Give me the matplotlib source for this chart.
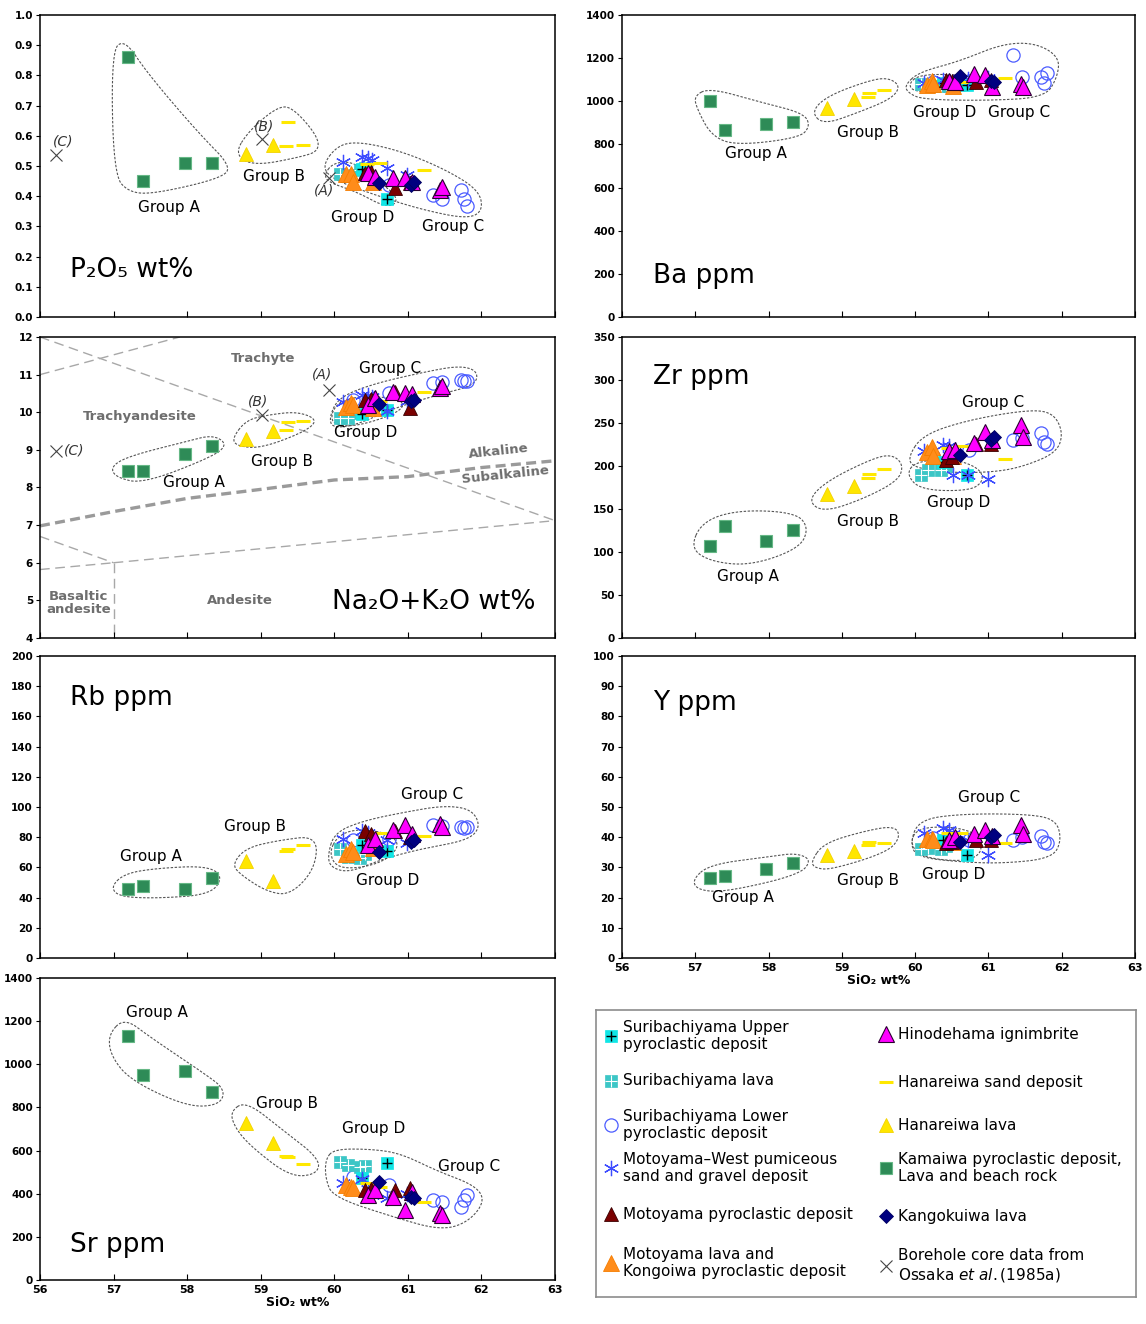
import numpy as np
import pandas as pd
import matplotlib
matplotlib.use("Agg")
import matplotlib.pyplot as plt
from matplotlib.ticker import FormatStrFormatter, MultipleLocator

plt.rcParams["font.family"] = ["DejaVu Sans"]

NA = np.nan
COLUMNS = ["SiO2", "P2O5", "Ba", "TAS", "Zr", "Rb", "Y", "Sr"]

# one row per sample: SiO2, P2O5, Ba, Na2O+K2O, Zr, Rb, Y, Sr
SURIBACHI_UPPER = [
    (60.38, 0.490, 1085, 9.95, 205, 75.0, 39.0, 471),
    (60.71, 0.390, 1075, 10.05, 189, 71.0, 34.0, 541),
]
SURIBACHI_LAVA = [
    (60.08, 0.475, 1080, 9.85, 190, 72.5, 36.0, 548),
    (60.18, 0.470, 1075, 9.85, 195, 67.0, 36.5, 535),
    (60.35, 0.488, 1070, 9.97, 195, 66.0, 36.0, 525),
    (60.42, 0.495, 1082, 10.05, 200, 69.0, 37.0, 530),
]
SURIBACHI_LOWER = [
    (60.25, 0.464, 1088, 10.32, 212, 78.0, 39.6, 479),
    (60.74, 0.436, 1092, 10.50, 219, 79.0, 39.0, 440),
    (61.34, 0.403, 1215, 10.77, 230, 88.0, 39.2, 371),
    (61.46, 0.392, 1114, 10.80, 232, 87.5, 40.0, 363),
    (61.72, 0.420, 1111, 10.85, 238, 87.0, 40.5, 340),
    (61.76, 0.392, 1085, 10.84, 228, 86.0, 38.5, 372),
    (61.80, 0.367, 1132, 10.82, 226, 86.5, 38.0, 394),
]
MOTOYAMA_WEST = [
    (60.12, 0.513, 1085, 10.28, 217, 79.0, 41.3, 450),
    (60.38, 0.530, 1100, 10.46, 224, 84.0, 43.0, 470),
    (60.46, 0.527, 1095, 10.45, 223, 83.0, 42.5, 420),
    (60.51, 0.520, 1090, 10.40, 190, 80.0, 41.0, 395),
    (60.72, 0.493, 1105, 10.02, 189, 78.0, 39.0, 380),
    (60.99, 0.470, 1110, 10.30, 185, 76.0, 34.0, 400),
]
MOTOYAMA_PYRO = [
    (60.42, 0.477, 1100, 10.32, 207, 84.0, 38.0, 417),
    (60.50, 0.480, 1095, 10.35, 210, 82.0, 38.5, 420),
    (60.83, 0.427, 1088, 10.54, 226, 84.0, 39.0, 417),
    (61.03, 0.444, 1100, 10.10, 226, 80.0, 39.0, 425),
]
MOTOYAMA_LAVA = [
    (60.16, 0.475, 1075, 10.15, 216, 69.0, 39.5, 440),
    (60.23, 0.475, 1095, 10.25, 222, 72.0, 39.5, 430),
    (60.25, 0.448, 1080, 10.20, 212, 70.0, 39.0, 425),
    (60.52, 0.448, 1070, 10.10, 212, 73.0, 38.5, 420),
]
HINODEHAMA = [
    (60.46, 0.477, 1095, 10.20, 217, 75.0, 39.0, 394),
    (60.55, 0.464, 1090, 10.37, 219, 79.0, 40.0, 417),
    (60.80, 0.460, 1128, 10.54, 227, 85.0, 41.0, 386),
    (60.96, 0.460, 1122, 10.50, 240, 88.0, 42.5, 325),
    (61.05, 0.448, 1068, 10.48, 230, 82.0, 40.5, 410),
    (61.44, 0.420, 1080, 10.64, 248, 89.0, 44.0, 309),
    (61.47, 0.430, 1068, 10.70, 234, 87.0, 41.0, 300),
]
HANAREIWA_SAND = [
    (59.35, 0.567, 1022, 9.52, 186, 71.0, 37.5, 575),
    (59.37, 0.646, 1037, 9.73, 191, 72.5, 38.5, 570),
    (59.57, 0.569, 1052, 9.77, 197, 75.0, 38.0, 540),
    (60.45, 0.506, 1068, 10.22, 221, 80.0, 41.3, 448),
    (60.62, 0.510, 1091, 10.30, 223, 83.0, 41.5, 433),
    (61.22, 0.486, 1107, 10.55, 208, 81.0, 38.0, 363),
]
HANAREIWA_LAVA = [
    (58.80, 0.540, 967, 9.30, 167, 64.0, 34.0, 730),
    (59.17, 0.570, 1009, 9.50, 177, 51.0, 35.5, 635),
]
KAMAIWA = [
    (57.20, 0.860, 1000, 8.45, 107, 46.0, 26.5, 1130),
    (57.40, 0.450, 865, 8.45, 130, 47.5, 27.0, 950),
    (57.97, 0.510, 897, 8.90, 113, 46.0, 29.5, 970),
    (58.34, 0.510, 902, 9.10, 126, 53.0, 31.5, 872),
]
KANGOKUIWA = [
    (60.61, 0.444, 1118, 10.22, 213, 70.0, 38.5, 456),
    (61.04, 0.437, 1095, 10.30, 230, 77.0, 40.0, 385),
    (61.08, 0.447, 1090, 10.32, 234, 78.0, 40.7, 379),
]
BOREHOLE = [
    (59.93, 0.459, NA, 10.60, NA, NA, NA, NA),
    (59.02, 0.591, NA, 9.92, NA, NA, NA, NA),
    (56.22, 0.536, NA, 8.98, NA, NA, NA, NA),
]
BOREHOLE_TAGS = ["(A)", "(B)", "(C)"]

# TAS boundary lines
TAS_ALK_SIO2 = [56, 57, 58, 59, 60, 61, 62, 63]
TAS_ALK_TOTAL = [6.98, 7.36, 7.71, 7.95, 8.20, 8.29, 8.53, 8.71]
TAS_LINES = [
    ((56.0, 57.9), (11.0, 12.0)),
    ((56.0, 63.0), (12.0, 7.12)),
    ((56.0, 57.0), (6.70, 6.00)),
    ((56.0, 57.0), (5.82, 6.00)),
    ((57.0, 63.0), (6.00, 7.12)),
    ((57.0, 57.0), (6.00, 4.00)),
]

# hand-drawn group envelopes (data coords), per panel
ENV_P2O5 = [
    [(57.15, 0.92), (57.45, 0.81), (58.15, 0.61), (58.6, 0.50), (58.47, 0.46), (57.6, 0.41), (57.22, 0.41), (57.0, 0.47), (56.97, 0.88)],
    [(58.64, 0.54), (58.85, 0.62), (59.25, 0.70), (59.45, 0.69), (59.77, 0.60), (59.79, 0.55), (59.55, 0.53), (58.9, 0.50)],
    [(59.83, 0.50), (60.05, 0.57), (60.35, 0.58), (60.9, 0.55), (61.5, 0.49), (61.97, 0.42), (62.02, 0.35), (61.8, 0.325), (61.2, 0.355), (60.6, 0.40), (59.98, 0.455)],
    [(59.86, 0.47), (59.98, 0.51), (60.25, 0.515), (60.5, 0.465), (60.82, 0.41), (60.85, 0.375), (60.68, 0.365), (60.3, 0.415), (59.93, 0.445)],
]
ENV_BA = [
    [(56.98, 1025), (57.2, 1062), (57.9, 995), (58.48, 945), (58.57, 885), (58.42, 830), (57.55, 795), (57.22, 840), (57.03, 960)],
    [(58.58, 950), (58.75, 892), (59.2, 945), (59.67, 1010), (59.8, 1068), (59.65, 1108), (59.4, 1100), (58.8, 1025)],
    [(59.86, 1075), (60.05, 1135), (60.6, 1185), (61.2, 1268), (61.65, 1270), (61.97, 1205), (61.94, 1110), (61.77, 1018), (61.0, 1003), (60.1, 1008), (59.9, 1040)],
    [(59.91, 1080), (60.05, 1122), (60.5, 1126), (60.87, 1108), (60.9, 1055), (60.4, 1040), (59.98, 1045)],
]
ENV_TAS = [
    [(56.96, 8.55), (57.2, 8.83), (58.0, 9.23), (58.35, 9.4), (58.55, 9.15), (58.35, 8.82), (57.4, 8.1), (57.03, 8.27)],
    [(58.61, 9.3), (58.8, 9.79), (59.1, 9.93), (59.5, 10.02), (59.78, 9.8), (59.6, 9.48), (59.0, 9.04), (58.68, 9.1)],
    [(59.93, 9.85), (60.05, 10.38), (60.5, 10.74), (61.2, 11.06), (61.7, 11.24), (61.95, 11.1), (61.92, 10.72), (61.4, 10.46), (60.8, 10.1), (60.3, 9.66), (59.98, 9.58)],
    [(59.96, 10.0), (60.1, 10.33), (60.5, 10.45), (60.97, 10.3), (60.87, 9.98), (60.3, 9.62), (59.98, 9.67)],
]
ENV_ZR = [
    [(56.93, 105), (57.1, 136), (57.6, 149), (58.37, 146), (58.55, 128), (58.42, 104), (57.75, 84), (57.2, 89)],
    [(58.53, 160), (58.75, 146), (59.3, 162), (59.77, 183), (59.84, 201), (59.7, 213), (59.45, 210), (58.8, 183)],
    [(59.9, 210), (60.1, 236), (60.7, 253), (61.5, 265), (61.87, 263), (62.02, 240), (61.94, 216), (61.5, 200), (61.1, 193), (60.5, 192), (59.98, 198)],
    [(59.88, 190), (60.0, 205), (60.5, 209), (60.87, 198), (60.94, 183), (60.75, 171), (60.08, 172)],
]
ENV_RB = [
    [(56.96, 47), (57.15, 56), (57.6, 59.5), (58.27, 61), (58.49, 54), (58.32, 42), (57.6, 39.5), (57.08, 40.5)],
    [(58.61, 62), (58.8, 73), (59.25, 78), (59.77, 81), (59.74, 59), (59.4, 41.5), (59.08, 44), (58.73, 55)],
    [(59.91, 68), (60.0, 83), (60.4, 91), (61.0, 97), (61.5, 101), (61.87, 98.5), (61.99, 87), (61.82, 78), (61.2, 72.5), (60.65, 65.5), (60.2, 56.5), (59.95, 60)],
    [(59.93, 70), (60.05, 81), (60.3, 85.5), (60.72, 83), (60.9, 75), (60.7, 64.5), (60.35, 59.5), (60.03, 60)],
]
ENV_Y = [
    [(56.96, 26), (57.2, 31), (58.0, 33.5), (58.37, 34.8), (58.59, 32.5), (58.42, 27.5), (57.4, 21.8), (57.03, 22.5)],
    [(58.58, 32), (58.75, 38), (59.3, 42), (59.72, 43.8), (59.8, 40), (59.62, 35), (58.85, 29.2), (58.63, 29.8)],
    [(59.93, 38), (60.05, 45.7), (60.6, 47.7), (61.5, 47.7), (61.92, 46), (62.0, 39), (61.87, 33), (61.2, 31.3), (60.6, 31.8), (60.03, 33.4)],
    [(59.93, 38), (60.03, 43), (60.5, 43.6), (60.87, 41), (60.92, 34.6), (60.65, 31.8), (60.08, 33.4)],
]
ENV_SR = [
    [(56.93, 1140), (57.15, 1215), (57.5, 1125), (58.2, 965), (58.52, 885), (58.44, 810), (58.0, 803), (57.23, 925), (56.96, 1040)],
    [(58.58, 780), (58.8, 830), (59.3, 695), (59.8, 563), (59.77, 490), (59.4, 478), (58.88, 615), (58.66, 700)],
    [(59.88, 560), (60.0, 607), (60.5, 607), (60.9, 587), (61.4, 505), (61.92, 438), (62.05, 365), (61.82, 268), (61.45, 230), (60.8, 292), (59.98, 385), (59.88, 470)],
]

# group label positions (data coords): A, B, D, C
LAB_P2O5 = [(57.75, 0.361), (59.18, 0.464), (60.39, 0.331), (61.61, 0.301)]
LAB_BA = [(57.83, 760), (59.36, 853), (60.40, 946), (61.42, 946)]
LAB_TAS = [(58.09, 8.14), (59.29, 8.70), (60.43, 9.47), (60.76, 11.15)]
LAB_ZR = [(57.72, 72), (59.36, 136), (60.60, 157), (61.07, 274)]
LAB_RB = [(57.51, 67.5), (58.92, 87.4), (60.73, 51), (61.33, 108.6)]
LAB_Y = [(57.65, 19.9), (59.36, 25.8), (60.52, 27.8), (61.01, 53)]
LAB_SR = [(57.59, 1242), (59.36, 820), (60.54, 700), (61.83, 528)]
GROUP_NAMES = ["Group A", "Group B", "Group D", "Group C"]

SERIES = [
    ("Suribachiyama Upper\npyroclastic deposit", SURIBACHI_UPPER, "upper"),
    ("Suribachiyama lava", SURIBACHI_LAVA, "lava"),
    ("Suribachiyama Lower\npyroclastic deposit", SURIBACHI_LOWER, "lower"),
    ("Motoyama\u2013West pumiceous\nsand and gravel deposit", MOTOYAMA_WEST, "west"),
    ("Motoyama pyroclastic deposit", MOTOYAMA_PYRO, "mpyro"),
    ("Motoyama lava and\nKongoiwa pyroclastic deposit", MOTOYAMA_LAVA, "mlava"),
    ("Hinodehama ignimbrite", HINODEHAMA, "hino"),
    ("Hanareiwa sand deposit", HANAREIWA_SAND, "sand"),
    ("Hanareiwa lava", HANAREIWA_LAVA, "hlava"),
    ("Kamaiwa pyroclastic deposit,\nLava and beach rock", KAMAIWA, "kama"),
    ("Kangokuiwa lava", KANGOKUIWA, "kango"),
    ("Borehole core data from\nOssaka $\\it{et\\ al.}$(1985a)", BOREHOLE, "bore"),
]
frames = {key: pd.DataFrame(rows, columns=COLUMNS) for _, rows, key in SERIES}

STYLE = {
    "upper": [dict(marker="s", ms=8.5, mfc="#10e6e6", mec="#10e6e6", mew=0.5),
              dict(marker="+", ms=7.5, mec="black", mew=1.0)],
    "lava": [dict(marker="s", ms=8.5, mfc="#3cc6c6", mec="#3cc6c6", mew=0.5),
             dict(marker="+", ms=8.5, mec="white", mew=0.8)],
    "lower": [dict(marker="o", ms=9.5, mfc="none", mec="#4b5cff", mew=0.9)],
    "west": [dict(marker=(6, 2, 0), ms=11, mec="#3d4cff", mew=0.9)],
    "mpyro": [dict(marker="^", ms=10.5, mfc="#7a0000", mec="#3a0000", mew=0.6)],
    "mlava": [dict(marker="^", ms=12, mfc="#ff8c1a", mec="#f57d00", mew=0.6)],
    "hino": [dict(marker="^", ms=11, mfc="#ff00ff", mec="#2a0030", mew=0.8)],
    "sand": [dict(marker="_", ms=10, mec="#ffe800", mew=2.2)],
    "hlava": [dict(marker="^", ms=9.5, mfc="#ffe600", mec="#f2d200", mew=0.6)],
    "kama": [dict(marker="s", ms=8.5, mfc="#2e8b57", mec="#66b886", mew=0.8)],
    "kango": [dict(marker="D", ms=7.5, mfc="#000080", mec="#000060", mew=0.6)],
    "bore": [dict(marker="x", ms=8, mec="#444444", mew=0.8)],
}
DRAW_ORDER = ["lower", "lava", "upper", "west", "sand", "mlava", "mpyro", "hino",
              "kango", "hlava", "kama", "bore"]

W, H = 1146, 1324


def rect(x0, x1, y0, y1):
    return [x0 / W, 1 - y1 / H, (x1 - x0) / W, (y1 - y0) / H]


def chaikin(points, n=4):
    p = np.asarray(points, float)
    for _ in range(n):
        q = np.roll(p, -1, axis=0)
        a = 0.75 * p + 0.25 * q
        b = 0.25 * p + 0.75 * q
        p = np.empty((2 * len(a), 2))
        p[0::2] = a
        p[1::2] = b
    return np.vstack([p, p[:1]])


def draw_points(ax, col):
    for key in DRAW_ORDER:
        df = frames[key].dropna(subset=[col])
        if df.empty:
            continue
        for st in STYLE[key]:
            ax.plot(df["SiO2"], df[col], ls="none", zorder=4, **st)
    if col in ("P2O5", "TAS"):
        df = frames["bore"]
        if col == "P2O5":
            offs = [(-4, -9), (1, 9), (5, 10)]
        else:
            offs = [(-5, 11), (-3, 10), (13, 0)]
        for tag, x, y, off in zip(BOREHOLE_TAGS, df["SiO2"], df[col], offs):
            ax.annotate(tag, (x, y), xytext=off, textcoords="offset points",
                        ha="center", va="center", fontsize=10, style="italic",
                        color="#333333")


def setup(ax, col, ylim, ystep, fmt, envelopes, labels, big, big_xy, big_ha,
          xlabels=False):
    ax.set_xlim(56, 63)
    ax.set_ylim(*ylim)
    ax.xaxis.set_major_locator(MultipleLocator(1))
    ax.yaxis.set_major_locator(MultipleLocator(ystep))
    ax.yaxis.set_major_formatter(FormatStrFormatter(fmt))
    ax.tick_params(axis="x", direction="in", length=4, labelsize=8)
    ax.tick_params(axis="y", direction="out", length=3, labelsize=7.5, pad=2)
    if not xlabels:
        ax.set_xticklabels([])
    else:
        ax.set_xlabel("SiO\u2082 wt%", fontsize=9, fontweight="bold", labelpad=1)
    for lab in ax.get_yticklabels() + ax.get_xticklabels():
        lab.set_fontweight("bold")
    for sp in ax.spines.values():
        sp.set_linewidth(1.1)
    for env in envelopes:
        c = chaikin(env)
        ax.plot(c[:, 0], c[:, 1], color="#555555", lw=0.8, ls=(0, (2.2, 1.4)), zorder=2)
    for name, (x, y) in zip(GROUP_NAMES, labels):
        ax.text(x, y, name, ha="center", va="center", fontsize=11, zorder=5)
    ax.text(big_xy[0], big_xy[1], big, transform=ax.transAxes, ha=big_ha,
            va="center", fontsize=19)
    draw_points(ax, col)


fig = plt.figure(figsize=(W / 100, H / 100), dpi=100)

L = (40, 555)
R = (622, 1135)
ax_p = fig.add_axes(rect(*L, 15, 317))
ax_ba = fig.add_axes(rect(*R, 15, 317))
ax_tas = fig.add_axes(rect(*L, 337, 638))
ax_zr = fig.add_axes(rect(*R, 337, 638))
ax_rb = fig.add_axes(rect(*L, 656, 958))
ax_y = fig.add_axes(rect(*R, 656, 958))
ax_sr = fig.add_axes(rect(*L, 978, 1280))

setup(ax_p, "P2O5", (0, 1.0), 0.1, "%.1f", ENV_P2O5, LAB_P2O5,
      "P\u2082O\u2085 wt%", (0.058, 0.155), "left")
setup(ax_ba, "Ba", (0, 1400), 200, "%d", ENV_BA, LAB_BA,
      "Ba ppm", (0.06, 0.135), "left")

# TAS background
ax_tas.plot(TAS_ALK_SIO2, TAS_ALK_TOTAL, color="#9a9a9a", lw=2.4, ls=(0, (3, 1.6)), zorder=1)
for xs, ys in TAS_LINES:
    ax_tas.plot(xs, ys, color="#a8a8a8", lw=1.0, ls=(0, (7, 4)), zorder=1)
reg = dict(color="#6e6e6e", fontweight="bold", fontsize=9.5, ha="center", va="center")
ax_tas.text(59.03, 11.44, "Trachyte", **reg)
ax_tas.text(57.35, 9.90, "Trachyandesite", **reg)
ax_tas.text(62.24, 8.97, "Alkaline", rotation=6, **reg)
ax_tas.text(62.32, 8.33, "Subalkaline", rotation=6, **reg)
ax_tas.text(56.52, 4.93, "Basaltic\nandesite", linespacing=1.0, **reg)
ax_tas.text(58.72, 5.00, "Andesite", **reg)
setup(ax_tas, "TAS", (4, 12), 1, "%d", ENV_TAS, LAB_TAS,
      "Na\u2082O+K\u2082O wt%", (0.962, 0.12), "right")

setup(ax_zr, "Zr", (0, 350), 50, "%d", ENV_ZR, LAB_ZR,
      "Zr ppm", (0.06, 0.867), "left")
setup(ax_rb, "Rb", (0, 200), 20, "%d", ENV_RB, LAB_RB,
      "Rb ppm", (0.058, 0.861), "left")
setup(ax_y, "Y", (0, 100), 10, "%d", ENV_Y, LAB_Y,
      "Y ppm", (0.06, 0.844), "left", xlabels=True)
setup(ax_sr, "Sr", (0, 1400), 200, "%d", ENV_SR, LAB_SR,
      "Sr ppm", (0.058, 0.116), "left", xlabels=True)

# legend panel
lg = fig.add_axes(rect(596, 1136, 1010, 1297))
lg.set_xlim(0, 540)
lg.set_ylim(287, 0)
lg.set_xticks([])
lg.set_yticks([])
for sp in lg.spines.values():
    sp.set_color("#8c8c8c")
    sp.set_linewidth(1.2)
LEG_POS = {
    "upper": (15, 26), "lava": (15, 71), "lower": (15, 115), "west": (15, 158),
    "mpyro": (15, 204), "mlava": (15, 253),
    "hino": (290, 24), "sand": (290, 72), "hlava": (290, 115), "kama": (290, 158),
    "kango": (290, 206), "bore": (290, 256),
}
for label, _, key in SERIES:
    mx, my = LEG_POS[key]
    for st in STYLE[key]:
        lg.plot([mx], [my], ls="none", **st)
    lg.text(mx + 12, my, label, ha="left", va="center", fontsize=11, linespacing=1.2)

fig.savefig("out.png", dpi=100)
